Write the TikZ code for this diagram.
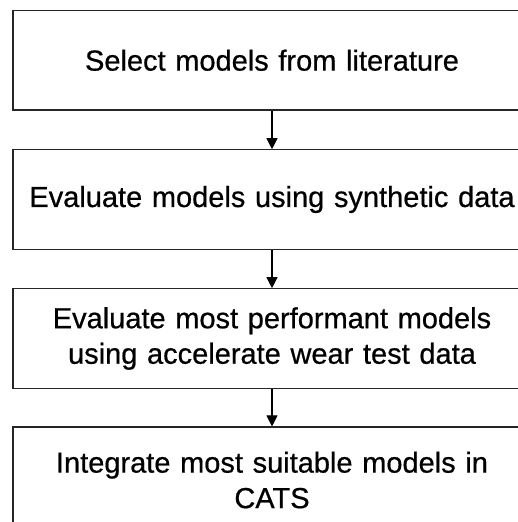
\documentclass[tikz,border=0pt]{standalone}
\usepackage{fontspec}
\setmainfont{Liberation Sans}
\newfontfamily\boxfont{Liberation Sans}[FakeBold=0.6]
\usetikzlibrary{arrows.meta}
\begin{document}
\begin{tikzpicture}[x=1pt,y=1pt,
  stepbox/.style={draw=black!85, line width=1.1pt, rectangle, minimum width=518pt,
    inner sep=0pt, align=center, text width=510pt,
    font=\boxfont\fontsize{29}{35.5}\selectfont},
  flow/.style={line width=1.1pt, -{Triangle[width=11pt,length=11pt]}}]
\useasboundingbox (0,0) rectangle (518,522);
\clip (0,0) rectangle (518,522);
\fill[white] (0,0) rectangle (518,522);
\node[stepbox, minimum height=99.5pt] (s1) at (272,461.75) {Select models from literature};
\node[stepbox, minimum height=99.5pt] (s2) at (272,322.5) {Evaluate models using synthetic data};
\node[stepbox, minimum height=99.5pt] (s3) at (272,183.5) {Evaluate most performant models\\using accelerate wear test data};
\node[stepbox, minimum height=106pt] (s4) at (272,42) {Integrate most suitable models in\\CATS};
\draw[flow] (s1) -- (s2);
\draw[flow] (s2) -- (s3);
\draw[flow] (s3) -- (s4);
\end{tikzpicture}
\end{document}
